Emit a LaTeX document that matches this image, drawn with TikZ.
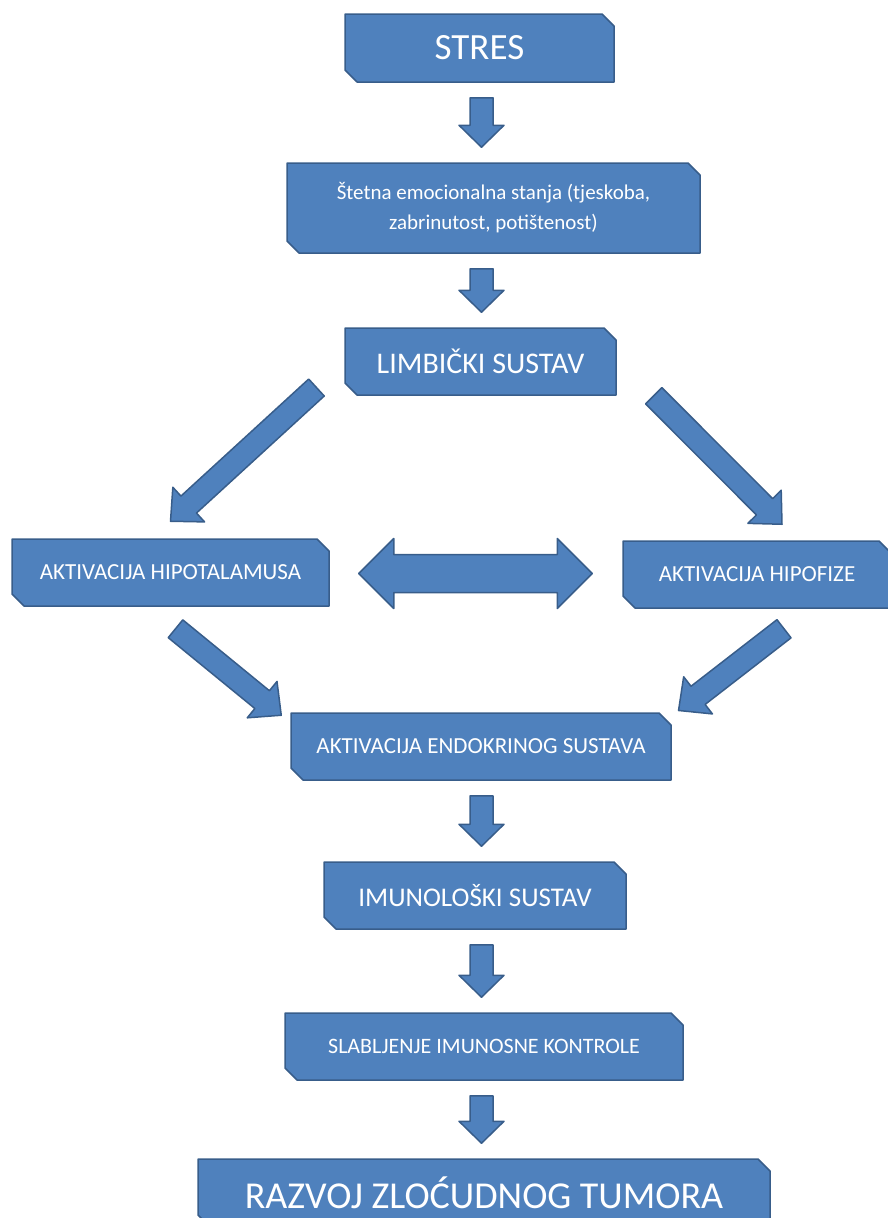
\documentclass[tikz,border=0pt]{standalone}
\usepackage{fontspec}
\setmainfont{Carlito}
\usetikzlibrary{shapes.misc,calc}
\definecolor{boxfill}{RGB}{79,129,189}
\definecolor{boxline}{RGB}{56,93,138}
% block arrow: tail, tip, shaft half width, head half width, head length
\newcommand{\blockarr}[5]{%
  \coordinate (ta) at #1; \coordinate (tb) at #2;
  \coordinate (hb) at ($(tb)!#5!(ta)$);
  \filldraw[arr] ($(ta)!#3!90:(tb)$) -- ($(hb)!#3!90:(tb)$) -- ($(hb)!#4!90:(tb)$) -- (tb)
    -- ($(hb)!#4!-90:(tb)$) -- ($(hb)!#3!-90:(tb)$) -- ($(ta)!#3!-90:(tb)$) -- cycle;}
\begin{document}
\begin{tikzpicture}[x=1pt, y=-1pt, line join=round,
    box/.style={chamfered rectangle, chamfered rectangle corners={north east,south west},
      chamfered rectangle xsep=6pt, chamfered rectangle ysep=6pt, inner sep=0pt,
      fill=boxfill, draw=boxline, line width=1.5pt, text=white, minimum height=67pt},
    arr/.style={fill=boxfill, draw=boxline, line width=1.5pt}]
  \useasboundingbox (0,0) rectangle (887,1218);
  \node[box, minimum width=269pt, minimum height=68pt, font=\fontsize{37}{40}\selectfont] (stres) at (479.5,48) {STRES};
  \node[box, minimum width=413pt, minimum height=90pt, align=center, font=\fontsize{21}{30}\selectfont] (stetna) at (493.5,208)
    {Štetna emocionalna stanja (tjeskoba,\\zabrinutost, potištenost)};
  \node[box, minimum width=271pt, font=\fontsize{30}{33}\selectfont] (limbic) at (480.5,361.5) {LIMBIČKI SUSTAV};
  \node[box, minimum width=317pt, font=\fontsize{23}{26}\selectfont] (hipot) at (170.5,572.5) {AKTIVACIJA HIPOTALAMUSA};
  \node[box, minimum width=268pt, font=\fontsize{23}{26}\selectfont] (hipof) at (757,574.5) {AKTIVACIJA HIPOFIZE};
  \node[box, minimum width=380pt, font=\fontsize{23}{26}\selectfont] (endo) at (481,746.5) {AKTIVACIJA ENDOKRINOG SUSTAVA};
  \node[box, minimum width=302pt, font=\fontsize{27}{30}\selectfont] (imuno) at (475,895.5) {IMUNOLOŠKI SUSTAV};
  \node[box, minimum width=398pt, font=\fontsize{22}{25}\selectfont] (slab) at (484,1046.5) {SLABLJENJE IMUNOSNE KONTROLE};
  \node[box, minimum width=572pt, minimum height=68pt, font=\fontsize{38}{41}\selectfont] (razvoj) at (484,1193) {RAZVOJ ZLOĆUDNOG TUMORA};
  % straight down
  \coordinate (mid) at (481.5,0);
  \foreach \a/\b in {stres/stetna, stetna/limbic, endo/imuno, imuno/slab, slab/razvoj}
    \blockarr{($(mid |- \a.south)+(0,15)$)}{($(mid |- \b.north)+(0,-15)$)}{11.5pt}{22.5pt}{22pt};
  % diagonals
  \blockarr{($(limbic.south west)+(-34,-2)$)}{($(hipot.north)+(0,-17)$)}{11.5pt}{23.5pt}{24.7pt}
  \blockarr{($(limbic.south east)+(37,0)$)}{($(hipof.north)+(25,-16)$)}{11.5pt}{23.5pt}{24.7pt}
  \blockarr{($(hipot.south)+(5,22)$)}{($(endo.north west)+(-9,3)$)}{11.5pt}{23.5pt}{24.7pt}
  \blockarr{($(hipof.south)+(27,20)$)}{($(endo.north east)+(13,-8)$)}{11.5pt}{23.5pt}{24.7pt}
  % both ways
  \coordinate (dl) at ($(hipot.east)+(29,1)$);
  \coordinate (dr) at ($(hipof.west)+(-30,-1)$);
  \filldraw[arr] (dl) -- ($(dl)+(35,-35)$) -- ($(dl)+(35,-19)$) -- ($(dr)+(-35,-19)$) -- ($(dr)+(-35,-35)$) -- (dr)
    -- ($(dr)+(-35,35)$) -- ($(dr)+(-35,19)$) -- ($(dl)+(35,19)$) -- ($(dl)+(35,35)$) -- cycle;
\end{tikzpicture}
\end{document}
